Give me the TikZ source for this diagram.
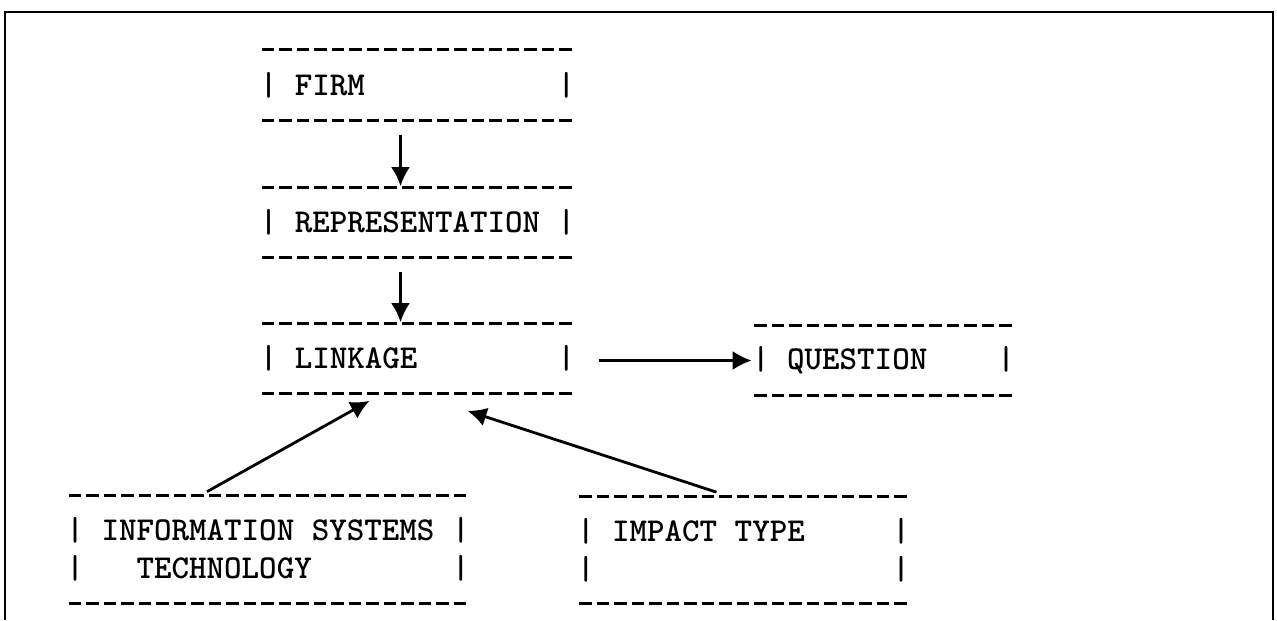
\documentclass[tikz,border=0pt]{standalone}
\usetikzlibrary{arrows.meta,calc}

\tikzset{
  ascii/.style={font=\ttfamily\bfseries\fontsize{19}{21.6}\selectfont, align=left,
    inner xsep=0pt, inner ysep=0pt, minimum height=1.4cm},
  tworow/.style={ascii, minimum height=2.14cm},
  dashrule/.style={line width=1.8pt, dash pattern=on 0.25cm off 0.1cm, dash phase=0.3cm},
}

\begin{document}
\begin{tikzpicture}
        [x=0.02cm, y=-0.02cm, >={Latex[length=0.38cm, width=0.38cm]}]

        \useasboundingbox (0,0) rectangle (1277,620);

        % frame, open at the bottom
        \draw[line width=1.2pt] (5,620) -- (5,12) -- (1273,12) -- (1273,620);

        \node[ascii] (firm) at (417.5,85) {|~FIRM~~~~~~~~~~~|};
        \node[ascii] (representation) at (417.5,222.5) {|~REPRESENTATION~|};
        \node[ascii] (linkage) at (417.5,358.5) {|~LINKAGE~~~~~~~~|};
        \node[ascii] (question) at (883.5,360.5) {|~QUESTION~~~~|};
        \node[tworow] (infotech) at (268,549.5) {|~INFORMATION~SYSTEMS~|\\|~~~TECHNOLOGY~~~~~~~~|};
        \node[tworow] (impact) at (743.5,550) {|~IMPACT~TYPE~~~~~|\\|~~~~~~~~~~~~~~~~~|};

        \foreach \b in {firm, representation, linkage, question, infotech, impact}
        \draw[dashrule] (\b.north west) -- (\b.north east) (\b.south west) -- (\b.south east);

        \draw[->, line width=1.6pt] ($(firm.south)+(-17,15)$) -- ($(representation.north)+(-17,-1)$);
        \draw[->, line width=1.6pt] ($(representation.south)+(-17,14)$) -- ($(linkage.north)+(-17,-1)$);
        \draw[->, line width=1.6pt] ($(linkage.east)+(23,2)$) -- (question.west);
        \draw[->, line width=1.6pt] ($(infotech.north)+(-61,-4)$) -- ($(linkage.south)+(-48,7)$);
        \draw[->, line width=1.6pt] ($(impact.north)+(-27,-4)$) -- ($(linkage.south)+(50,17)$);
    \end{tikzpicture}
\end{document}
